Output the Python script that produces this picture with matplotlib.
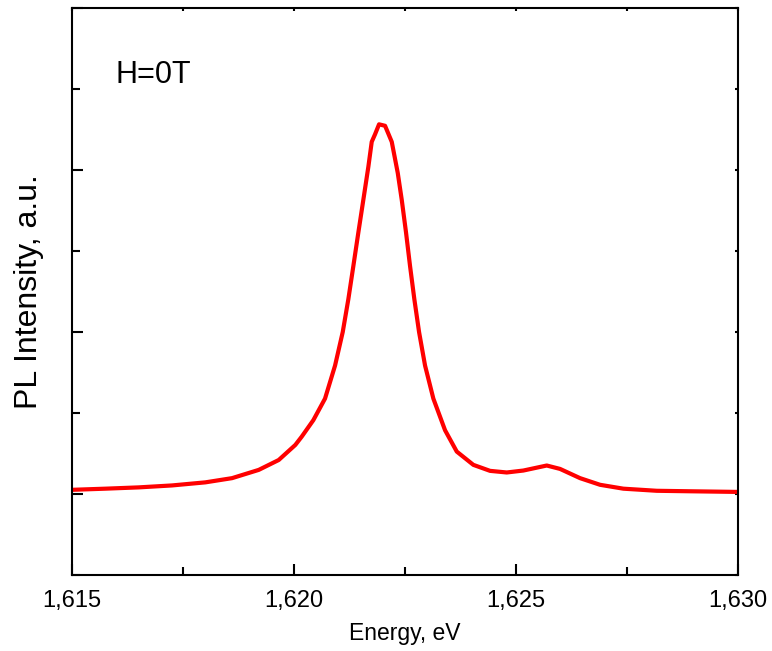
import matplotlib
matplotlib.use('Agg')
import matplotlib.pyplot as plt
from matplotlib.ticker import MultipleLocator, FuncFormatter

# PL spectrum (energy in eV, intensity in arb. units)
energy = [1.615000, 1.615750, 1.616502, 1.617252, 1.618002, 1.618604,
          1.619205, 1.619655, 1.620029, 1.620173, 1.620435, 1.620698,
          1.620924, 1.621097, 1.621223, 1.621336, 1.621448, 1.621561,
          1.621674, 1.621750, 1.621824, 1.621915, 1.622050, 1.622201,
          1.622336, 1.622426, 1.622523, 1.622613, 1.622710, 1.622816,
          1.622951, 1.623138, 1.623401, 1.623665, 1.624039, 1.624415,
          1.624791, 1.625165, 1.625692, 1.625991, 1.626442, 1.626892,
          1.627417, 1.628169, 1.628919, 1.630000]
intensity = [0.026, 0.033, 0.041, 0.053, 0.072, 0.098,
             0.149, 0.210, 0.303, 0.354, 0.456, 0.589,
             0.793, 1.000, 1.202, 1.407, 1.613, 1.816,
             2.020, 2.174, 2.220, 2.282, 2.273, 2.174,
             1.982, 1.816, 1.613, 1.407, 1.202, 1.000,
             0.793, 0.589, 0.394, 0.262, 0.180, 0.143,
             0.133, 0.145, 0.176, 0.155, 0.098, 0.057,
             0.033, 0.020, 0.017, 0.013]

label_text = 'H=0T'

plt.rcParams['font.family'] = ['Liberation Sans', 'DejaVu Sans']

fig = plt.figure(figsize=(7.72, 6.51), dpi=100)
ax = fig.add_axes([0.0933, 0.1167, 0.8627, 0.871])

ax.plot(energy, intensity, color='red', lw=3)

ax.set_xlim(1.615, 1.630)
ax.set_ylim(-0.5, 3.0)

ax.xaxis.set_major_locator(MultipleLocator(0.005))
ax.xaxis.set_minor_locator(MultipleLocator(0.0025))
ax.xaxis.set_major_formatter(FuncFormatter(lambda v, p: ('%.3f' % v).replace('.', ',')))
ax.yaxis.set_major_locator(MultipleLocator(1.0))
ax.yaxis.set_minor_locator(MultipleLocator(0.5))

ax.tick_params(which='both', direction='in', width=1.5, pad=11, labelsize=17)
ax.tick_params(which='major', length=8)
ax.tick_params(which='minor', length=6)
ax.tick_params(which='both', top=True, right=True)
ax.tick_params(axis='y', labelleft=False)
for t in ax.xaxis.get_major_ticks() + ax.yaxis.get_major_ticks():
    t.tick2line.set_markersize(2)
for t in ax.xaxis.get_minor_ticks() + ax.yaxis.get_minor_ticks():
    t.tick2line.set_markersize(2)

for s in ax.spines.values():
    s.set_linewidth(1.5)

ax.set_xlabel('Energy, eV', fontsize=16.5, labelpad=7)
ax.set_ylabel('PL Intensity, a.u.', fontsize=23, labelpad=9)

ax.text(0.0646, 0.868, label_text, transform=ax.transAxes, fontsize=22,
        va='baseline', ha='left')

plt.savefig('out.png')
